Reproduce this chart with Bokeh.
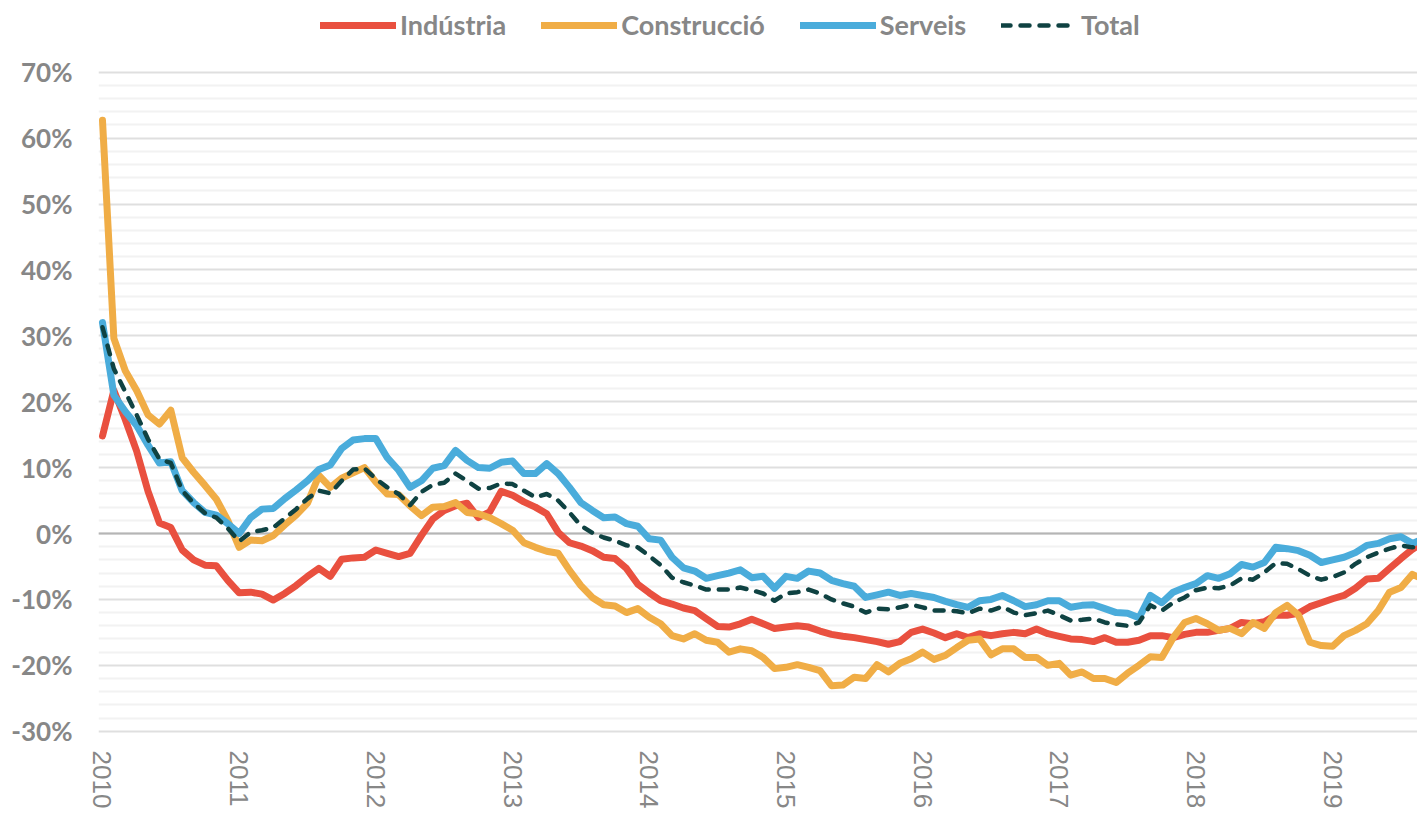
from bokeh.plotting import figure
from bokeh.models import Range1d, FixedTicker, Span, Legend, LegendItem
from bokeh.embed import file_html
from bokeh.resources import INLINE

# ---- data (monthly, Jan 2010 onward) ----
years = ["2010", "2011", "2012", "2013", "2014", "2015", "2016", "2017", "2018", "2019"]
year_start_month = [0, 12, 24, 36, 48, 60, 72, 84, 96, 108]

industria = [
    14.8, 21.7, 17.3, 12.5, 6.4, 1.6, 0.9, -2.5, -4.0, -4.8, -4.9, -7.1,
    -9.0, -8.9, -9.2, -10.1, -9.1, -7.9, -6.5, -5.3, -6.5, -3.9, -3.7, -3.6,
    -2.5, -3.0, -3.5, -3.0, -0.3, 2.2, 3.5, 4.2, 4.6, 2.4, 3.3, 6.4,
    5.8, 4.8, 4.0, 3.0, 0.2, -1.4, -1.9, -2.6, -3.6, -3.8, -5.3, -7.7,
    -9.0, -10.2, -10.7, -11.3, -11.7, -12.9, -14.1, -14.2, -13.7, -13.0, -13.7, -14.4,
    -14.2, -14.0, -14.2, -14.8, -15.3, -15.6, -15.8, -16.1, -16.4, -16.8, -16.4, -15.0,
    -14.5, -15.1, -15.8, -15.2, -15.8, -15.2, -15.5, -15.2, -15.0, -15.2, -14.5, -15.2,
    -15.6, -16.0, -16.1, -16.4, -15.8, -16.5, -16.5, -16.2, -15.5, -15.5, -15.8, -15.3,
    -15.0, -15.0, -14.7, -14.4, -13.5, -13.7, -13.4, -12.4, -12.4, -12.1, -11.1, -10.5,
    -9.9, -9.4, -8.3, -6.9, -6.8, -5.3, -3.8, -2.4, -1.2,
]
construccio = [
    62.7, 29.6, 24.7, 21.7, 18.0, 16.6, 18.7, 11.5, 9.3, 7.3, 5.2, 2.0,
    -2.1, -1.0, -1.1, -0.3, 1.3, 2.8, 4.6, 8.8, 7.0, 8.4, 9.2, 10.0,
    7.8, 6.0, 5.9, 4.2, 2.7, 4.0, 4.1, 4.7, 3.2, 3.0, 2.4, 1.5,
    0.5, -1.4, -2.1, -2.7, -3.0, -5.6, -7.9, -9.7, -10.8, -11.0, -12.0, -11.4,
    -12.7, -13.7, -15.5, -16.0, -15.2, -16.2, -16.5, -18.0, -17.5, -17.8, -18.8, -20.5,
    -20.3, -19.9, -20.3, -20.8, -23.1, -23.0, -21.8, -22.0, -19.9, -21.0, -19.7, -19.0,
    -18.0, -19.1, -18.5, -17.3, -16.2, -16.0, -18.4, -17.5, -17.5, -18.8, -18.8, -20.0,
    -19.7, -21.5, -21.0, -22.0, -22.0, -22.6, -21.2, -20.0, -18.7, -18.8, -15.8, -13.5,
    -12.9, -13.7, -14.7, -14.4, -15.2, -13.5, -14.4, -12.0, -10.9, -12.4, -16.5, -17.0,
    -17.1, -15.5, -14.7, -13.7, -11.7, -8.9, -8.2, -6.2, -7.0,
]
serveis = [
    32.0, 21.0, 18.5, 16.4, 13.4, 10.7, 10.9, 6.5, 4.7, 3.2, 2.8, 1.5,
    0.0, 2.4, 3.7, 3.8, 5.3, 6.6, 8.0, 9.7, 10.4, 12.9, 14.2, 14.4,
    14.4, 11.5, 9.6, 7.0, 8.0, 9.9, 10.3, 12.6, 11.1, 10.0, 9.9, 10.8,
    11.0, 9.1, 9.1, 10.6, 9.1, 7.0, 4.7, 3.5, 2.4, 2.5, 1.5, 1.1,
    -0.8, -1.0, -3.6, -5.2, -5.7, -6.8, -6.4, -6.0, -5.5, -6.7, -6.5, -8.3,
    -6.5, -6.8, -5.7, -6.0, -7.1, -7.6, -8.0, -9.7, -9.3, -8.9, -9.4, -9.1,
    -9.4, -9.7, -10.3, -10.8, -11.2, -10.2, -10.0, -9.4, -10.2, -11.1, -10.8, -10.2,
    -10.2, -11.2, -10.9, -10.8, -11.4, -12.0, -12.1, -12.8, -9.4, -10.5, -8.9, -8.2,
    -7.6, -6.4, -6.8, -6.1, -4.7, -5.1, -4.4, -2.1, -2.3, -2.6, -3.3, -4.4,
    -4.0, -3.6, -2.9, -1.8, -1.5, -0.8, -0.5, -1.5, -0.8,
]
total = [
    31.3, 25.0, 21.5, 18.0, 14.3, 11.3, 10.7, 6.5, 4.6, 3.1, 2.4, 0.8,
    -1.2, 0.2, 0.5, 0.9, 2.3, 3.7, 5.3, 6.5, 6.1, 8.0, 9.7, 9.9,
    8.3, 7.0, 6.0, 4.3, 6.3, 7.4, 7.7, 9.1, 8.0, 6.8, 6.9, 7.6,
    7.5, 6.5, 5.5, 6.0, 5.0, 3.2, 1.2, 0.1, -0.6, -1.1, -1.8, -2.1,
    -3.4, -4.8, -6.7, -7.4, -7.9, -8.5, -8.5, -8.5, -8.2, -8.6, -9.1, -10.2,
    -9.1, -8.9, -8.5, -9.1, -10.0, -10.6, -11.1, -12.0, -11.4, -11.5, -11.2, -10.8,
    -11.2, -11.7, -11.7, -11.8, -12.1, -11.4, -11.7, -11.1, -12.0, -12.4, -12.1, -11.7,
    -12.4, -13.2, -13.1, -12.9, -13.5, -13.8, -14.0, -13.5, -10.9, -11.7, -10.5, -9.7,
    -8.6, -8.2, -8.3, -7.9, -6.8, -7.0, -5.9, -4.5, -4.6, -5.4, -6.4, -7.0,
    -6.6, -5.9, -4.6, -3.6, -2.9, -2.3, -1.8, -2.1, -1.6,
]
months = list(range(len(total)))

series_names = ["Indústria", "Construcció", "Serveis", "Total"]
y_ticks = [-30, -20, -10, 0, 10, 20, 30, 40, 50, 60, 70]
y_labels = ["-30%", "-20%", "-10%", "0%", "10%", "20%", "30%", "40%", "50%", "60%", "70%"]
y_minor = [v for v in range(-30, 71, 2) if v % 10 != 0]

# ---- figure ----
TXT = "#878787"
p = figure(width=1417, height=814, output_backend="svg", toolbar_location=None,
           x_range=Range1d(-0.35, 115.45), y_range=Range1d(-30.65, 80.88),
           min_border_left=98, min_border_right=0, min_border_top=0, min_border_bottom=79)
p.outline_line_color = None
p.background_fill_color = "white"

# grid
p.xgrid.grid_line_color = None
p.ygrid.ticker = FixedTicker(ticks=y_ticks, minor_ticks=y_minor)
p.ygrid.grid_line_color = "#dfdfdf"
p.ygrid.grid_line_width = 2
p.ygrid.minor_grid_line_color = "#f2f2f2"
p.ygrid.minor_grid_line_width = 2

zero = Span(location=0, dimension="width", line_color="#b5b5b5", line_width=2, level="underlay")
p.add_layout(zero)

# axes
p.yaxis.ticker = FixedTicker(ticks=y_ticks)
p.yaxis.major_label_overrides = {t: l for t, l in zip(y_ticks, y_labels)}
p.yaxis.axis_line_color = None
p.yaxis.major_tick_line_color = None
p.yaxis.minor_tick_line_color = None
p.yaxis.major_tick_out = 0
p.yaxis.minor_tick_out = 0
p.yaxis.major_label_standoff = 26
p.yaxis.major_label_text_font = "Lato"
p.yaxis.major_label_text_font_style = "bold"
p.yaxis.major_label_text_font_size = "26px"
p.yaxis.major_label_text_color = TXT

p.xaxis.ticker = FixedTicker(ticks=year_start_month)
p.xaxis.major_label_overrides = {m: y for m, y in zip(year_start_month, years)}
p.xaxis.axis_line_color = None
p.xaxis.major_tick_line_color = None
p.xaxis.minor_tick_line_color = None
p.xaxis.major_tick_out = 0
p.xaxis.minor_tick_out = 0
p.xaxis.major_label_orientation = "vertical"
p.xaxis.major_label_standoff = 15
p.xaxis.major_label_text_font = "Liberation Sans"
p.xaxis.major_label_text_font_size = "26px"
p.xaxis.major_label_text_color = TXT

# lines
colors = ["#E9503F", "#F0AD46", "#4AACDB", "#0F4242"]
r_ind = p.line(months, industria, line_color=colors[0], line_width=7, line_join="round", line_cap="round")
r_con = p.line(months, construccio, line_color=colors[1], line_width=7, line_join="round", line_cap="round")
r_ser = p.line(months, serveis, line_color=colors[2], line_width=7, line_join="round", line_cap="round")
r_tot = p.line(months, total, line_color=colors[3], line_width=4.5, line_dash="9 10",
               line_join="round", line_cap="round")

legend = Legend(items=[LegendItem(label=n, renderers=[r]) for n, r in
                       zip(series_names, [r_ind, r_con, r_ser, r_tot])],
                orientation="horizontal", location=(222, 694))
legend.label_text_font = "Lato"
legend.label_text_font_style = "bold"
legend.label_text_font_size = "27px"
legend.label_text_color = TXT
legend.glyph_width = 76
legend.glyph_height = 26
legend.label_standoff = 4
legend.spacing = 35
legend.padding = 2
legend.margin = 0
legend.border_line_color = None
legend.background_fill_alpha = 0
p.add_layout(legend)

open("out.html", "w").write(file_html(p, INLINE))
